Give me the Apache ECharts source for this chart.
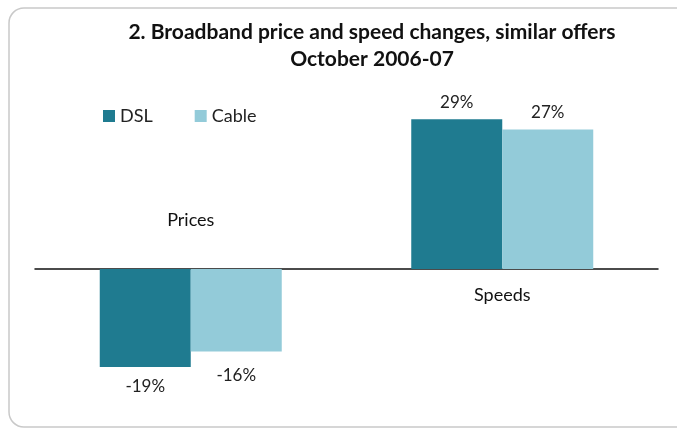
<!DOCTYPE html>
<html>
<head>
<meta charset="utf-8">
<script src="https://cdn.jsdelivr.net/npm/echarts@6/dist/echarts.min.js"></script>
<style>
  html, body { margin: 0; padding: 0; background: #fff; }
  #chart { width: 677px; height: 430px; }
</style>
</head>
<body>
<div id="chart"></div>
<script>
const categories = ['Prices', 'Speeds']
const dslValues = [-19, 29]
const cableValues = [-16, 27]

const font = 'Lato, "Open Sans", sans-serif'
const chart = echarts.init(document.getElementById('chart'))

const barLabel = {
  show: true,
  fontFamily: font,
  fontSize: 17,
  color: '#222',
  formatter: (p) => p.value + '%'
}

// category names sit on the far side of the zero line from their bars
const catLabels = categories.map((c, i) => ({
  value: [c, 0],
  label: {
    position: dslValues[i] < 0 ? 'top' : 'bottom',
    distance: dslValues[i] < 0 ? 40 : 17
  }
}))

chart.setOption({
  animation: false,
  title: {
    text: '2. Broadband price and speed changes, similar offers\nOctober 2006-07',
    left: 367,
    textAlign: 'center',
    top: 14,
    textStyle: {
      fontFamily: font,
      fontSize: 21,
      fontWeight: 'bold',
      color: '#111',
      lineHeight: 27
    }
  },
  legend: {
    left: 98,
    top: 102,
    itemWidth: 12,
    itemHeight: 12,
    itemGap: 42,
    icon: 'rect',
    textStyle: { fontFamily: font, fontSize: 18, color: '#222' },
    data: ['DSL', 'Cable']
  },
  graphic: [
    {
      type: 'rect',
      shape: { x: 9, y: 8, width: 690, height: 419, r: 15 },
      style: { fill: 'none', stroke: '#c9c9c9', lineWidth: 1.5 },
      silent: true
    }
  ],
  grid: { left: 35, right: 19, top: 114, bottom: 32 },
  xAxis: {
    type: 'category',
    data: categories,
    axisLine: { onZero: true, lineStyle: { color: '#111', width: 1.5 } },
    axisTick: { show: false },
    axisLabel: { show: false }
  },
  yAxis: {
    type: 'value',
    min: -25,
    max: 30,
    show: false,
    splitLine: { show: false }
  },
  series: [
    {
      name: 'DSL',
      type: 'bar',
      data: dslValues.map((v) => ({ value: v, label: { position: v < 0 ? 'bottom' : 'top', distance: v < 0 ? 11 : 8 } })),
      barWidth: 91,
      barGap: '0%',
      itemStyle: { color: '#1f7b90' },
      label: barLabel
    },
    {
      name: 'Cable',
      type: 'bar',
      data: cableValues.map((v) => ({ value: v, label: { position: v < 0 ? 'bottom' : 'top', distance: v < 0 ? 15 : 8 } })),
      barWidth: 91,
      barGap: '0%',
      itemStyle: { color: '#93cbd9' },
      label: barLabel
    },
    {
      name: 'categories',
      type: 'scatter',
      symbolSize: 0,
      silent: true,
      z: 10,
      itemStyle: { opacity: 1 },
      data: catLabels,
      label: {
        show: true,
        fontFamily: font,
        fontSize: 18,
        color: '#111',
        formatter: (p) => p.value[0]
      }
    }
  ]
})
</script>
</body>
</html>
